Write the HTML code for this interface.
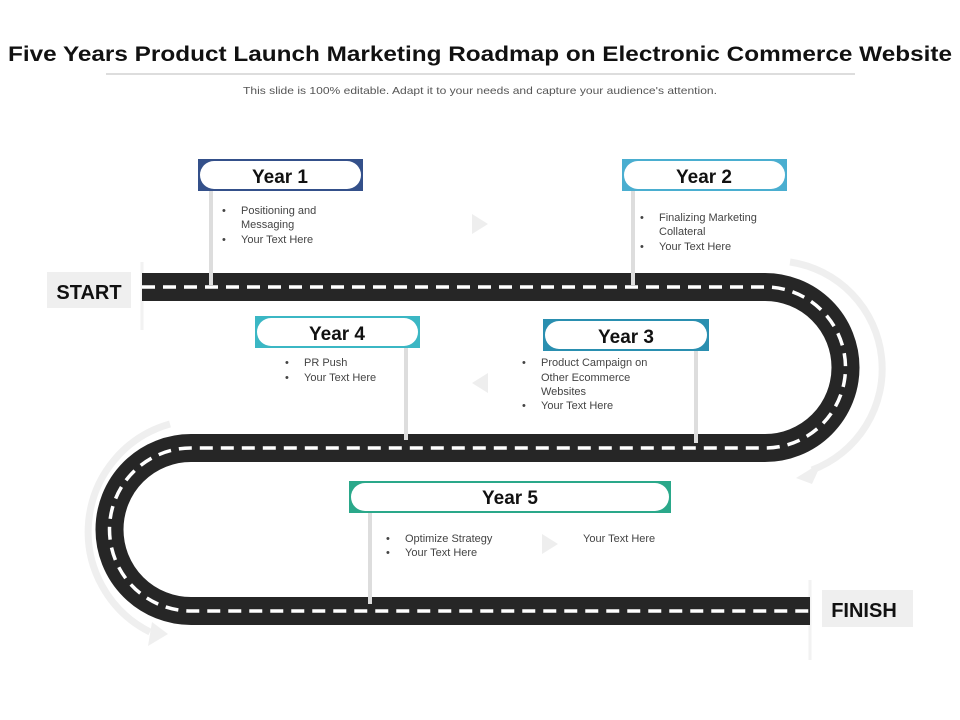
<!DOCTYPE html>
<html><head><meta charset="utf-8"><style>
html,body{margin:0;padding:0;background:#fff;}
svg{display:block;font-family:"Liberation Sans",sans-serif;}
</style></head><body>
<svg width="960" height="720" viewBox="0 0 960 720" xmlns="http://www.w3.org/2000/svg">
<text x="480" y="61" text-anchor="middle" font-size="21" font-weight="bold" fill="#111" textLength="944" lengthAdjust="spacingAndGlyphs">Five Years Product Launch Marketing Roadmap on Electronic Commerce Website</text>
<line x1="106" y1="74" x2="855" y2="74" stroke="#bbb" stroke-width="1"/>
<text x="480" y="94" text-anchor="middle" font-size="10.5" fill="#555" textLength="474" lengthAdjust="spacingAndGlyphs">This slide is 100% editable. Adapt it to your needs and capture your audience's attention.</text>

<path d="M790 262 A108 108 0 0 1 812 470" fill="none" stroke="#efefef" stroke-width="7"/>
<polygon points="796,478 822,462 812,484" fill="#efefef"/>
<path d="M170 424 A112 112 0 0 0 150 632" fill="none" stroke="#efefef" stroke-width="7"/>
<polygon points="148,646 152,622 168,634" fill="#efefef"/>
<polygon points="472,214 488,224 472,234" fill="#eee"/>
<polygon points="488,373 472,383 488,393" fill="#eee"/>
<polygon points="542,534 558,544 542,554" fill="#eee"/>
<line x1="142" y1="262" x2="142" y2="330" stroke="#f2f2f2" stroke-width="3"/>
<line x1="810" y1="580" x2="810" y2="660" stroke="#f2f2f2" stroke-width="3"/>

<path d="M142 287 H765 A80.5 80.5 0 0 1 765 448 H191 A81.5 81.5 0 0 0 191 611 H810" fill="none" stroke="#262626" stroke-width="28"/>
<path d="M142 287 H765 A80.5 80.5 0 0 1 765 448 H191 A81.5 81.5 0 0 0 191 611 H810" fill="none" stroke="#fff" stroke-width="3.5" stroke-dasharray="13 8"/>

<g stroke="#ddd" stroke-width="4">
<line x1="211" y1="191" x2="211" y2="285"/>
<line x1="633" y1="191" x2="633" y2="285"/>
<line x1="406" y1="348" x2="406" y2="440"/>
<line x1="696" y1="351" x2="696" y2="443"/>
<line x1="370" y1="513" x2="370" y2="604"/>
</g>

<g font-weight="bold" font-size="19" text-anchor="middle" fill="#111">
<rect x="198" y="159" width="165" height="32" fill="#34508a"/>
<rect x="200" y="161" width="161" height="28" rx="14" fill="#fff"/>
<text x="280" y="183">Year 1</text>
<rect x="622" y="159" width="165" height="32" fill="#4aaed0"/>
<rect x="624" y="161" width="161" height="28" rx="14" fill="#fff"/>
<text x="704" y="183">Year 2</text>
<rect x="255" y="316" width="165" height="32" fill="#3bb7c4"/>
<rect x="257" y="318" width="161" height="28" rx="14" fill="#fff"/>
<text x="337" y="340">Year 4</text>
<rect x="543" y="319" width="166" height="32" fill="#2a8fb0"/>
<rect x="545" y="321" width="162" height="28" rx="14" fill="#fff"/>
<text x="626" y="343">Year 3</text>
<rect x="349" y="481" width="322" height="32" fill="#2aa88a"/>
<rect x="351" y="483" width="318" height="28" rx="14" fill="#fff"/>
<text x="510" y="504">Year 5</text>
</g>

<g font-size="11" fill="#444">
<text x="222" y="214">•</text><text x="241" y="214">Positioning and</text>
<text x="241" y="228">Messaging</text>
<text x="222" y="243">•</text><text x="241" y="243">Your Text Here</text>
<text x="640" y="221">•</text><text x="659" y="221">Finalizing Marketing</text>
<text x="659" y="235">Collateral</text>
<text x="640" y="250">•</text><text x="659" y="250">Your Text Here</text>
<text x="285" y="366">•</text><text x="304" y="366">PR Push</text>
<text x="285" y="381">•</text><text x="304" y="381">Your Text Here</text>
<text x="522" y="366">•</text><text x="541" y="366">Product Campaign  on</text>
<text x="541" y="381">Other Ecommerce</text>
<text x="541" y="395">Websites</text>
<text x="522" y="409">•</text><text x="541" y="409">Your Text Here</text>
<text x="386" y="542">•</text><text x="405" y="542">Optimize Strategy</text>
<text x="386" y="556">•</text><text x="405" y="556">Your Text Here</text>
<text x="583" y="542">Your Text Here</text>
</g>

<rect x="47" y="272" width="84" height="36" fill="#efefef"/>
<text x="89" y="299" text-anchor="middle" font-size="20" font-weight="bold" fill="#111">START</text>
<rect x="822" y="590" width="91" height="37" fill="#efefef"/>
<text x="864" y="617" text-anchor="middle" font-size="20" font-weight="bold" fill="#111">FINISH</text>
</svg>
</body></html>
